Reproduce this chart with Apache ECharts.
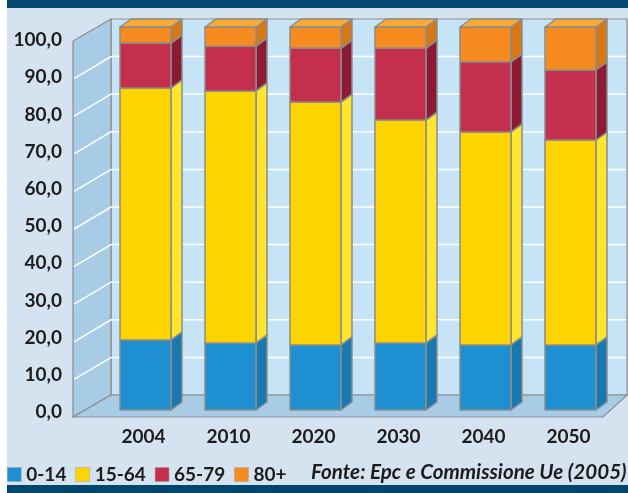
<!DOCTYPE html>
<html>
<head>
<meta charset="utf-8">
<script src="https://cdn.jsdelivr.net/npm/echarts@6/dist/echarts.min.js"></script>
<style>
html,body{margin:0;padding:0;background:#fff;}
#chart{width:628px;height:493px;}
</style>
</head>
<body>
<div id="chart"></div>
<script>
// ---- data ----
const categories = ['2004', '2010', '2020', '2030', '2040', '2050'];
const age0_14  = [18.3, 17.5, 17.0, 17.5, 17.0, 17.0];
const age15_64 = [65.8, 65.8, 63.4, 58.2, 55.6, 53.5];
const age65_79 = [11.7, 11.7, 14.1, 18.8, 18.3, 18.3];
const age80    = [4.2, 5.0, 5.5, 5.5, 9.1, 11.2];
const seriesNames = ['0-14', '15-64', '65-79', '80+'];
const yTicks = [0, 10, 20, 30, 40, 50, 60, 70, 80, 90, 100];
const sourceText = 'Fonte: Epc e Commissione Ue (2005)';

// ---- styles ----
const fronts = ['#1e8fd0', '#fed400', '#c52f4e', '#f68b1f'];
const sides  = ['#1878b0', '#ffe62e', '#8c1a35', '#d77817'];
const topFace = '#fbaa35';
const EDGE = '#8c8c8c';
const BAR_DX = 11, BAR_DY = -8, BAR_RATIO = 51 / 85;
const WALL_DX = 38, WALL_DY = -22;
const TXT = '#1d1b1c';
const FONT = 'Lato';

const stacks = [age0_14, age15_64, age65_79, age80];
const bases = stacks.map((arr, k) => arr.map((_, i) => {
  let s = 0; for (let j = 0; j < k; j++) s += stacks[j][i]; return s;
}));

function barSeries(k) {
  return {
    type: 'custom',
    name: seriesNames[k],
    xAxisIndex: 1, yAxisIndex: 1,
    itemStyle: { color: fronts[k] },
    data: categories.map((c, i) => [i, bases[k][i], bases[k][i] + stacks[k][i]]),
    encode: { x: 0, y: [1, 2] },
    z: 3 + k,
    renderItem: function (params, api) {
      const i = api.value(0), lo = api.value(1), hi = api.value(2);
      const pLo = api.coord([i, lo]), pHi = api.coord([i, hi]);
      const band = api.size([1, 0])[0];
      const w = band * BAR_RATIO;
      const x0 = pLo[0] - w / 2, x1 = x0 + w;
      const yB = pLo[1], yT = pHi[1];
      const st = { stroke: EDGE, lineWidth: 1.5, lineJoin: 'round' };
      const children = [
        { type: 'polygon', shape: { points: [[x1, yT], [x1 + BAR_DX, yT + BAR_DY], [x1 + BAR_DX, yB + BAR_DY], [x1, yB]] },
          style: Object.assign({ fill: sides[k] }, st) },
        { type: 'rect', shape: { x: x0, y: yT, width: w, height: yB - yT },
          style: Object.assign({ fill: fronts[k] }, st) }
      ];
      if (k === stacks.length - 1) {
        children.push({ type: 'polygon', shape: { points: [[x0, yT], [x1, yT], [x1 + BAR_DX, yT + BAR_DY], [x0 + BAR_DX, yT + BAR_DY]] },
          style: Object.assign({ fill: topFace }, st) });
      }
      return { type: 'group', children: children };
    }
  };
}

const wallSeries = {
  type: 'custom',
  xAxisIndex: 0, yAxisIndex: 0,
  silent: true,
  data: [[0, 0]],
  z: 1,
  renderItem: function (params, api) {
    const fl0 = api.coord([0, 0]);
    const fl1 = api.coord([0, 100]);
    const fr0 = api.coord([1, 0]);
    const bx = fl0[0] + WALL_DX;
    const rx = api.getWidth() - 1;
    const st = { stroke: EDGE, lineWidth: 1.2 };
    const ch = [];
    ch.push({ type: 'polygon', shape: { points: [[bx, fl1[1] + WALL_DY], [rx, fl1[1] + WALL_DY], [rx, fl0[1] + WALL_DY], [bx, fl0[1] + WALL_DY]] },
      style: Object.assign({ fill: '#c6e4f6' }, st) });
    ch.push({ type: 'polygon', shape: { points: [[fl0[0], fl0[1]], [fl1[0], fl1[1]], [bx, fl1[1] + WALL_DY], [bx, fl0[1] + WALL_DY]] },
      style: Object.assign({ fill: '#a8cce6' }, st) });
    ch.push({ type: 'polygon', shape: { points: [[fl0[0], fl0[1]], [fr0[0], fr0[1]], [rx, fr0[1] + WALL_DY], [bx, fl0[1] + WALL_DY]] },
      style: Object.assign({ fill: '#a8cce6' }, st) });
    yTicks.forEach(function (v) {
      if (v === 0 || v === 100) return;
      const p = api.coord([0, v]);
      ch.push({ type: 'polyline', shape: { points: [[p[0] + 1, p[1]], [bx, p[1] + WALL_DY], [rx - 1, p[1] + WALL_DY]] },
        style: { stroke: '#ffffff', lineWidth: 1.5, fill: null } });
    });
    return { type: 'group', children: ch };
  }
};

const chart = echarts.init(document.getElementById('chart'), null, { renderer: 'canvas' });
chart.setOption({
  backgroundColor: '#d4e3ef',
  animation: false,
  grid: [
    { left: 73, right: 25, top: 41, bottom: 76 },
    { left: 103, right: 15, top: 27, bottom: 83 },
    { left: 73, right: 25, top: 40, bottom: 81 }
  ],
  xAxis: [
    { gridIndex: 0, type: 'value', min: 0, max: 1, show: false },
    { gridIndex: 1, type: 'category', data: categories,
      axisLine: { show: false }, axisTick: { show: false },
      axisLabel: { margin: 17, fontFamily: FONT, fontWeight: 'bold', fontSize: 19, color: TXT, padding: [0, 4, 0, 0] } },
    { gridIndex: 2, type: 'value', min: 0, max: 1, show: false }
  ],
  yAxis: [
    { gridIndex: 0, type: 'value', min: 0, max: 100, interval: 10, show: false },
    { gridIndex: 1, type: 'value', min: 0, max: 100, interval: 10, show: false },
    { gridIndex: 2, type: 'value', min: 0, max: 100, interval: 10,
      axisLine: { show: false }, axisTick: { show: false }, splitLine: { show: false },
      axisLabel: { margin: 11, fontFamily: FONT, fontWeight: 'bold', fontSize: 19, color: TXT,
        formatter: function (v) { return v.toFixed(1).replace('.', ','); } } }
  ],
  legend: {
    left: 7, top: 465, padding: 0,
    icon: 'rect', itemWidth: 14, itemHeight: 14, itemGap: 9,
    data: seriesNames,
    itemStyle: { borderColor: '#9aa', borderWidth: 0.5 },
    textStyle: { fontFamily: FONT, fontWeight: 'bold', fontSize: 19, color: TXT, padding: [1, 0, 0, 0] }
  },
  graphic: [
    { type: 'rect', left: 0, top: 0, shape: { width: 7, height: 493 }, style: { fill: '#ffffff' }, z: -1 },
    { type: 'rect', shape: { x: 7, y: 0, width: 621, height: 8 }, style: { fill: '#00476f' } },
    { type: 'rect', shape: { x: 7, y: 485, width: 621, height: 8 }, style: { fill: '#00476f' } },
    { type: 'text', x: 311, y: 472,
      style: { text: sourceText, fontFamily: FONT, fontStyle: 'italic', fontWeight: 'bold', fontSize: 20.6, fill: TXT, verticalAlign: 'middle' } }
  ],
  series: [wallSeries].concat(stacks.map(function (_, k) { return barSeries(k); }))
});
</script>
</body>
</html>
